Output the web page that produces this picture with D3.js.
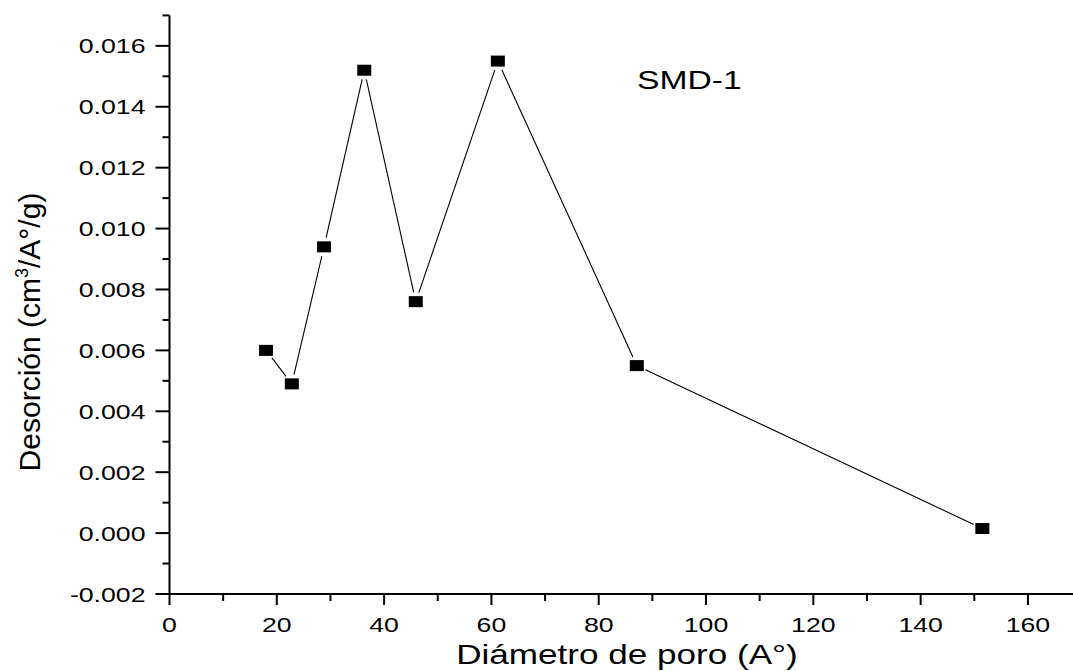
<!DOCTYPE html>
<html>
<head>
<meta charset="utf-8">
<script src="https://cdn.jsdelivr.net/npm/d3@7"></script>
<style>
  html, body { margin: 0; padding: 0; background: #fff; }
  svg { display: block; }
  text { font-family: "Liberation Sans", Arial, sans-serif; fill: #000; }
</style>
</head>
<body>
<svg id="chart" width="1073" height="671"></svg>
<script>
// Pore size distribution (desorption branch), sample SMD-1
const poreDiameter = [18.0, 22.8, 28.8, 36.3, 45.9, 61.2, 87.1, 151.5];
const desorption   = [0.0060, 0.0049, 0.0094, 0.0152, 0.0076, 0.0155, 0.0055, 0.00015];
const xMajorTicks  = [0, 20, 40, 60, 80, 100, 120, 140, 160];
const xMinorTicks  = [10, 30, 50, 70, 90, 110, 130, 150];
const yMajorTicks  = [-0.002, 0.000, 0.002, 0.004, 0.006, 0.008, 0.010, 0.012, 0.014, 0.016];
const yMinorTicks  = [-0.001, 0.001, 0.003, 0.005, 0.007, 0.009, 0.011, 0.013, 0.015, 0.017];
const sampleName   = "SMD-1";
const xTitle       = "Diámetro de poro (A°)";

const svg = d3.select("#chart");
const SX = 1.27; // horizontal glyph stretch used for all labels

const x = d3.scaleLinear().domain([0, 168.4]).range([169.5, 1073]);
const y = d3.scaleLinear().domain([-0.002, 0.017]).range([594, 15.4]);

// Bottom axis
const gx = svg.append("g").attr("transform", `translate(0,${y(-0.002)})`);
gx.append("line").attr("x1", x(0) - 1).attr("x2", 1073)
  .attr("stroke", "#000").attr("stroke-width", 2);
gx.selectAll(".xmaj").data(xMajorTicks).join("line")
  .attr("x1", d => x(d)).attr("x2", d => x(d)).attr("y1", 0).attr("y2", 11)
  .attr("stroke", "#000").attr("stroke-width", 2);
gx.selectAll(".xmin").data(xMinorTicks).join("line")
  .attr("x1", d => x(d)).attr("x2", d => x(d)).attr("y1", 0).attr("y2", 7)
  .attr("stroke", "#000").attr("stroke-width", 2);
gx.selectAll(".xlab").data(xMajorTicks).join("text")
  .attr("transform", d => `translate(${x(d)},38) scale(${SX},1)`)
  .attr("text-anchor", "middle").attr("font-size", 21)
  .text(d => d3.format("d")(d));

// Left axis
const gy = svg.append("g").attr("transform", `translate(${x(0)},0)`);
gy.append("line").attr("y1", y(-0.002) + 1).attr("y2", y(0.017))
  .attr("stroke", "#000").attr("stroke-width", 2);
gy.selectAll(".ymaj").data(yMajorTicks).join("line")
  .attr("x1", -14).attr("x2", 0).attr("y1", d => y(d)).attr("y2", d => y(d))
  .attr("stroke", "#000").attr("stroke-width", 2);
gy.selectAll(".ymin").data(yMinorTicks).join("line")
  .attr("x1", -7).attr("x2", 0).attr("y1", d => y(d)).attr("y2", d => y(d))
  .attr("stroke", "#000").attr("stroke-width", 2);
gy.selectAll(".ylab").data(yMajorTicks).join("text")
  .attr("transform", d => `translate(-24,${y(d) + 7.5}) scale(${SX},1)`)
  .attr("text-anchor", "end").attr("font-size", 21)
  .text(d => d3.format(".3f")(d).replace("\u2212", "-"));

// Axis titles
svg.append("text")
  .attr("transform", `translate(627,664) scale(1.3,1)`)
  .attr("text-anchor", "middle").attr("font-size", 27)
  .text(xTitle);

const yt = svg.append("text")
  .attr("transform", `translate(40,332) rotate(-90)`)
  .attr("text-anchor", "middle").attr("font-size", 30);
yt.append("tspan").text("Desorción (cm");
yt.append("tspan").attr("font-size", 18).attr("dy", -12).text("3");
yt.append("tspan").attr("dy", 12).text("/A°/g)");

// Connecting line, drawn as segments that stop short of each marker
const pts = poreDiameter.map((d, i) => [x(d), y(desorption[i])]);
const gap = 9.5;
const segs = d3.pairs(pts).map(([a, b]) => {
  const dx = b[0] - a[0], dy = b[1] - a[1];
  const L = Math.hypot(dx, dy);
  const ux = dx / L, uy = dy / L;
  return [a[0] + ux * gap, a[1] + uy * gap, b[0] - ux * gap, b[1] - uy * gap];
});
svg.append("g").selectAll("line").data(segs).join("line")
  .attr("x1", d => d[0]).attr("y1", d => d[1])
  .attr("x2", d => d[2]).attr("y2", d => d[3])
  .attr("stroke", "#000").attr("stroke-width", 1.1);

// Square markers
svg.append("g").selectAll("rect").data(poreDiameter).join("rect")
  .attr("x", d => x(d) - 7).attr("y", (d, i) => y(desorption[i]) - 5.5)
  .attr("width", 14).attr("height", 11).attr("fill", "#000");

// Sample label
svg.append("text")
  .attr("transform", `translate(637,89) scale(${SX},1)`)
  .attr("font-size", 26.5)
  .text(sampleName);
</script>
</body>
</html>
